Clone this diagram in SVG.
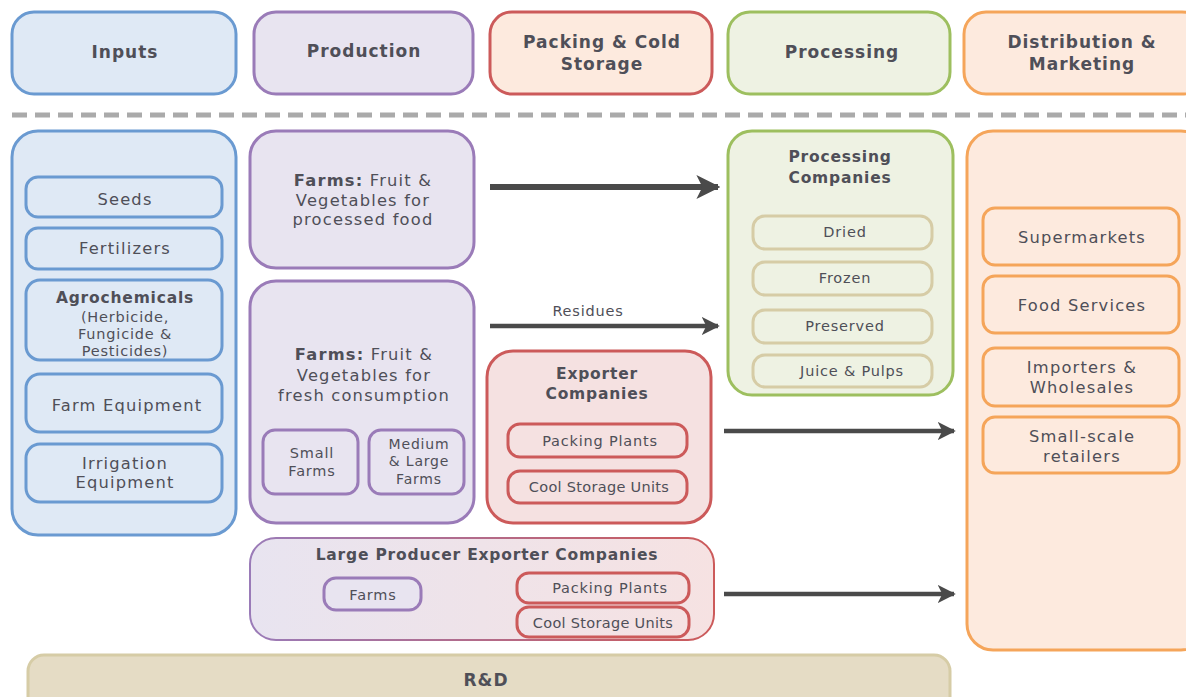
<svg xmlns="http://www.w3.org/2000/svg" width="1186" height="697" viewBox="0 0 1186 697">
<defs>
<marker id="ah" viewBox="0 0 10 10" refX="9" refY="5" markerWidth="4" markerHeight="4" orient="auto" markerUnits="strokeWidth">
<path d="M0,0 L10,5 L0,10 L2.5,5 Z" fill="#4a4a4a"/>
</marker>
<linearGradient id="lg" x1="0" y1="0" x2="1" y2="0">
<stop offset="0" stop-color="#e8e4f0"/><stop offset="1" stop-color="#f6e2e2"/>
</linearGradient>
<linearGradient id="lgs" x1="0" y1="0" x2="1" y2="0">
<stop offset="0" stop-color="#9a7bb8"/><stop offset="1" stop-color="#cc5a5a"/>
</linearGradient>
</defs>
<style>
text{font-family:"DejaVu Sans","Noto Sans",sans-serif;fill:#4f4f58;text-anchor:middle;letter-spacing:0.8px;}
.h{font-size:17px;font-weight:bold;letter-spacing:1px;}
.t{font-size:16.3px;letter-spacing:1.2px;}
.tb{font-size:15.5px;font-weight:bold;letter-spacing:0.8px;}
.s{font-size:14.5px;}
.b{font-weight:bold;}
.blue{fill:#dfe9f5;stroke:#6a9ad1;stroke-width:3;}
.pur{fill:#e8e4f0;stroke:#9a7bb8;stroke-width:3;}
.red{fill:#fdeade;stroke:#cc5a5a;stroke-width:3;}
.redp{fill:#f5e1e1;stroke:#cc5a5a;stroke-width:3;}
.grn{fill:#eef2e3;stroke:#9dbf5f;stroke-width:3;}
.org{fill:#fdeade;stroke:#f5a55a;stroke-width:3;}
.tan{fill:#eef2e3;stroke:#d6cca6;stroke-width:3;}
.conn{stroke:#4a4a4a;fill:none;}
</style>

<g id="header-inputs"><rect class="blue" x="12" y="12" width="224" height="82" rx="22"/><text class="h" x="125" y="58">Inputs</text></g>
<g id="header-production"><rect class="pur" x="254" y="12" width="219" height="82" rx="22"/><text class="h" x="364" y="57">Production</text></g>
<g id="header-packing"><rect class="red" x="490" y="12" width="222" height="82" rx="22"/><text class="h" x="602" y="48">Packing &amp; Cold</text><text class="h" x="602" y="70">Storage</text></g>
<g id="header-processing"><rect class="grn" x="728" y="12" width="222" height="82" rx="22"/><text class="h" x="842" y="58">Processing</text></g>
<g id="header-distribution"><rect class="org" x="964" y="12" width="240" height="82" rx="22"/><text class="h" x="1082" y="48">Distribution &amp;</text><text class="h" x="1082" y="70">Marketing</text></g>

<line x1="12" y1="115" x2="1186" y2="115" stroke="#aaaaaa" stroke-width="5" stroke-dasharray="15 8"/>

<g id="inputs">
<rect class="blue" x="12" y="131" width="224" height="404" rx="26"/>
<rect class="blue" x="26" y="177" width="196" height="40" rx="12"/><text class="t" x="125" y="205">Seeds</text>
<rect class="blue" x="26" y="228" width="196" height="41" rx="12"/><text class="t" x="125" y="254">Fertilizers</text>
<rect class="blue" x="26" y="280" width="196" height="80" rx="14"/>
<text class="tb" x="125" y="303">Agrochemicals</text>
<text class="s" x="125" y="322">(Herbicide,</text>
<text class="s" x="125" y="339">Fungicide &amp;</text>
<text class="s" x="125" y="356">Pesticides)</text>
<rect class="blue" x="26" y="374" width="196" height="58" rx="14"/><text class="t" x="127" y="411">Farm Equipment</text>
<rect class="blue" x="26" y="444" width="196" height="58" rx="14"/><text class="t" x="125" y="469">Irrigation</text><text class="t" x="125" y="488">Equipment</text>
</g>

<g id="farms-processed">
<rect class="pur" x="250" y="131" width="224" height="137" rx="26"/>
<text class="t" x="363" y="186"><tspan class="b">Farms:</tspan> Fruit &amp;</text>
<text class="t" x="363" y="206">Vegetables for</text>
<text class="t" x="363" y="225">processed food</text>
</g>

<g id="farms-fresh">
<rect class="pur" x="250" y="281" width="224" height="242" rx="26"/>
<text class="t" x="364" y="360"><tspan class="b">Farms:</tspan> Fruit &amp;</text>
<text class="t" x="364" y="381">Vegetables for</text>
<text class="t" x="364" y="401">fresh consumption</text>
<rect class="pur" x="263" y="430" width="95" height="64" rx="12"/><text class="s" x="312" y="458">Small</text><text class="s" x="312" y="476">Farms</text>
<rect class="pur" x="369" y="430" width="95" height="64" rx="12"/><text x="419" y="449" style="font-size:14px">Medium</text><text x="419" y="466" style="font-size:14px">&amp; Large</text><text x="419" y="484" style="font-size:14px">Farms</text>
</g>

<g id="exporters">
<rect class="redp" x="487" y="351" width="224" height="172" rx="26"/>
<text class="tb" x="597" y="379">Exporter</text>
<text class="tb" x="597" y="399">Companies</text>
<rect class="redp" x="508" y="424" width="179" height="33" rx="12"/><text class="s" x="600" y="446">Packing Plants</text>
<rect class="redp" x="508" y="471" width="179" height="32" rx="12"/><text class="s" x="599" y="492" style="letter-spacing:0.3px">Cool Storage Units</text>
</g>

<g id="processing">
<rect class="grn" x="728" y="131" width="225" height="264" rx="24"/>
<text class="tb" x="840" y="162">Processing</text>
<text class="tb" x="840" y="183">Companies</text>
<rect class="tan" x="753" y="216" width="179" height="33" rx="12"/><text class="s" x="845" y="237">Dried</text>
<rect class="tan" x="753" y="262" width="179" height="33" rx="12"/><text class="s" x="845" y="283">Frozen</text>
<rect class="tan" x="753" y="310" width="179" height="33" rx="12"/><text class="s" x="845" y="331">Preserved</text>
<rect class="tan" x="753" y="355" width="179" height="32" rx="12"/><text class="s" x="852" y="376">Juice &amp; Pulps</text>
</g>

<g id="distribution">
<rect class="org" x="967" y="131" width="240" height="519" rx="26"/>
<rect class="org" x="983" y="208" width="196" height="57" rx="12"/><text class="t" x="1082" y="243">Supermarkets</text>
<rect class="org" x="983" y="276" width="196" height="57" rx="12"/><text class="t" x="1082" y="311">Food Services</text>
<rect class="org" x="983" y="348" width="196" height="58" rx="12"/><text class="t" x="1082" y="373">Importers &amp;</text><text class="t" x="1082" y="393">Wholesales</text>
<rect class="org" x="983" y="417" width="196" height="56" rx="12"/><text class="t" x="1082" y="442">Small-scale</text><text class="t" x="1082" y="462">retailers</text>
</g>

<g id="large-producers">
<rect x="250" y="538" width="464" height="102" rx="26" fill="url(#lg)" stroke="url(#lgs)" stroke-width="2"/>
<text class="tb" x="487" y="560">Large Producer Exporter Companies</text>
<rect class="pur" x="324" y="578" width="97" height="32" rx="12"/><text class="s" x="373" y="600">Farms</text>
<rect x="517" y="573" width="172" height="30" rx="12" fill="none" stroke="#cc5a5a" stroke-width="3"/><text class="s" x="610" y="593">Packing Plants</text>
<rect x="517" y="607" width="172" height="30" rx="12" fill="none" stroke="#cc5a5a" stroke-width="3"/><text class="s" x="603" y="628" style="letter-spacing:0.3px">Cool Storage Units</text>
</g>

<g id="rnd">
<rect x="28" y="655" width="922" height="60" rx="16" fill="#e5dcc5" stroke="#d6cca6" stroke-width="3"/>
<text class="h" x="486" y="686">R&amp;D</text>
</g>

<g id="connectors">
<line class="conn" x1="490" y1="187" x2="718" y2="187" stroke-width="6" marker-end="url(#ah)"/>
<line class="conn" x1="490" y1="326" x2="718" y2="326" stroke-width="4.5" marker-end="url(#ah)"/>
<text class="s" x="588" y="316">Residues</text>
<line class="conn" x1="724" y1="431" x2="954" y2="431" stroke-width="4.5" marker-end="url(#ah)"/>
<line class="conn" x1="724" y1="594" x2="954" y2="594" stroke-width="4.5" marker-end="url(#ah)"/>
</g>
</svg>
